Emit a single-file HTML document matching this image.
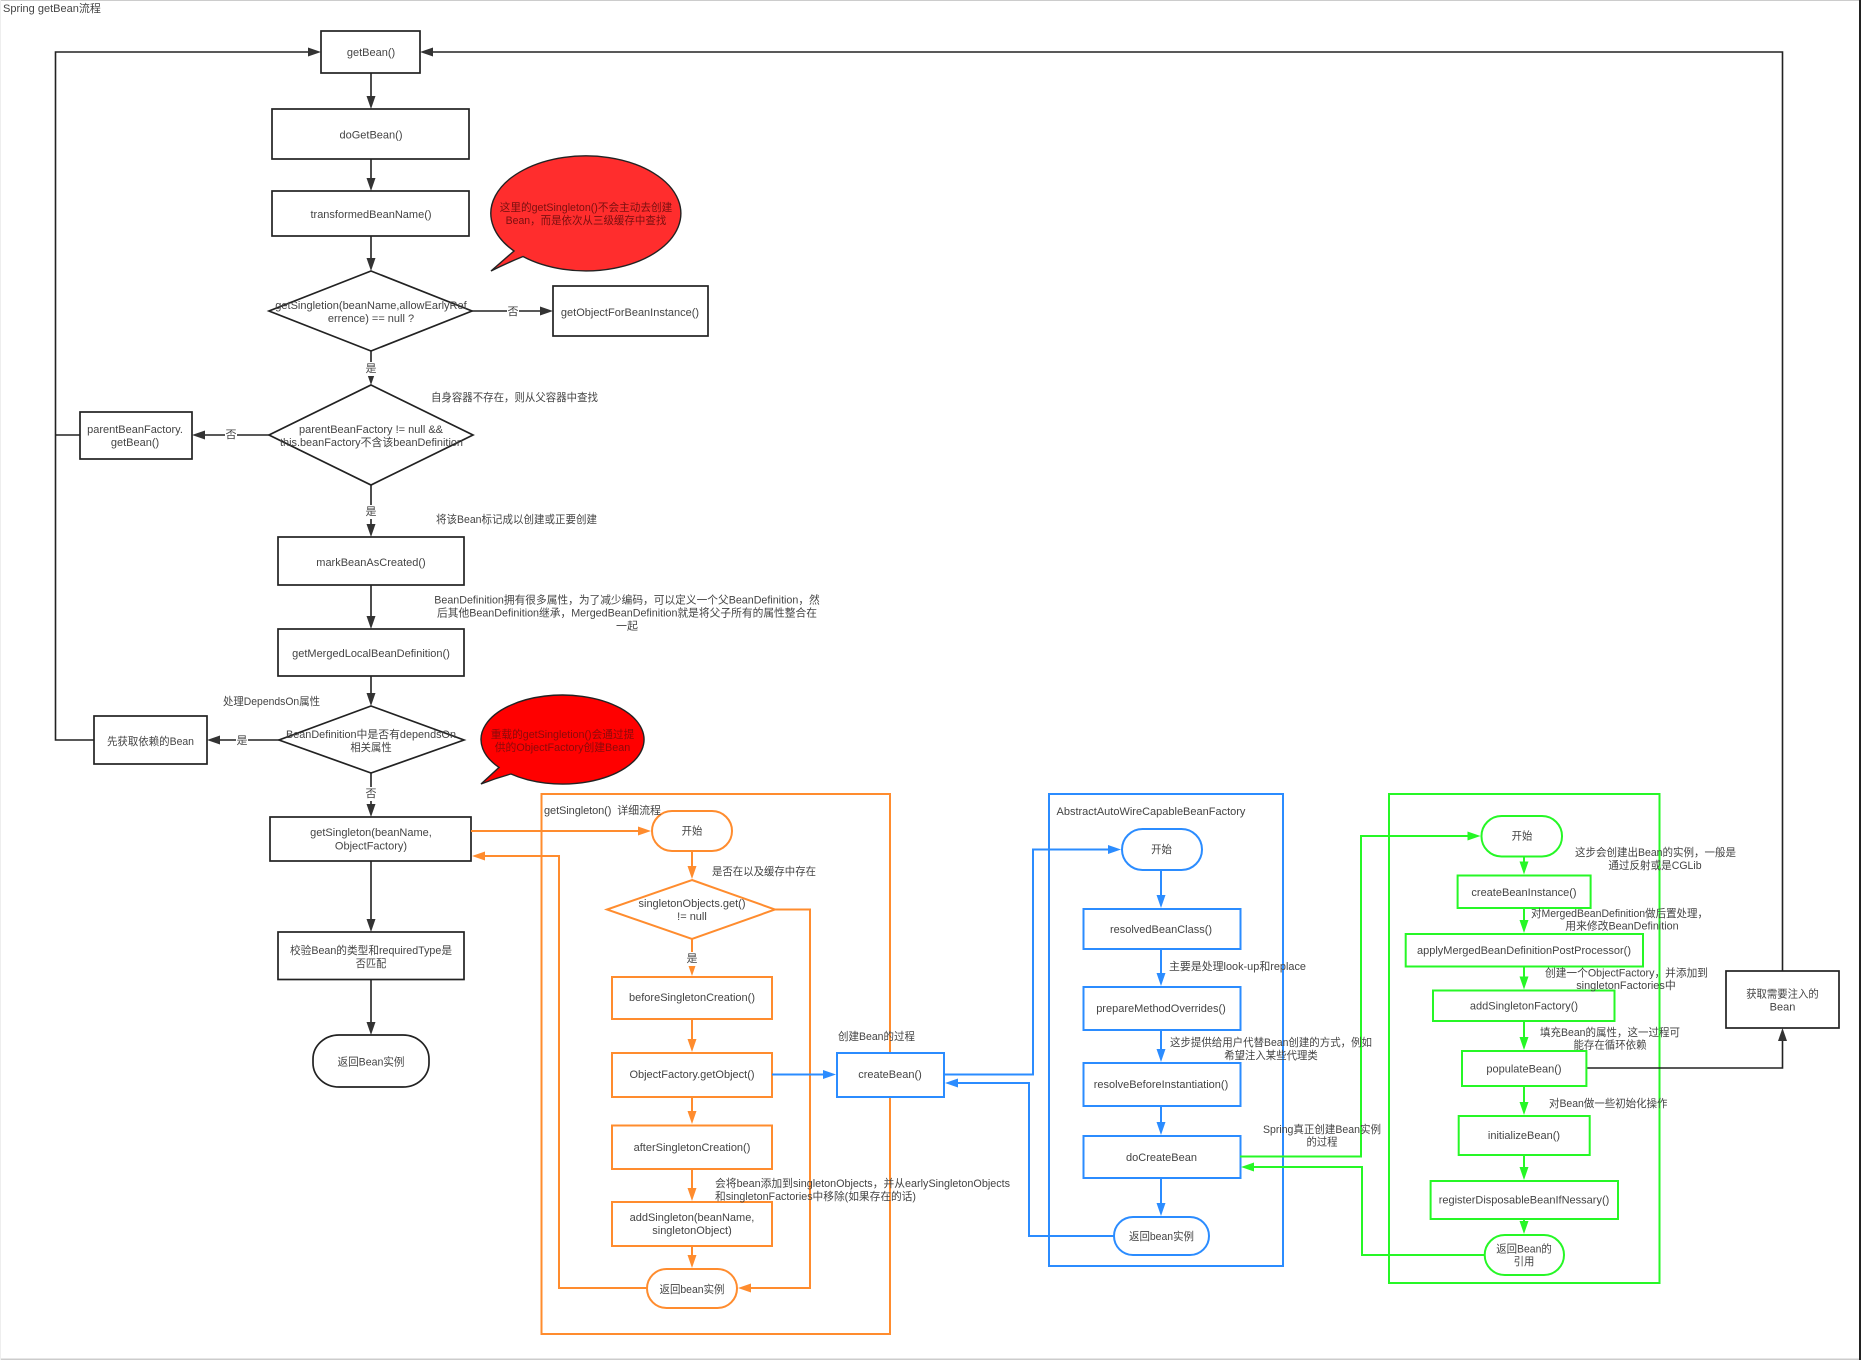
<!DOCTYPE html>
<html><head><meta charset="utf-8"><style>
html,body{margin:0;padding:0;background:#fff}
svg{display:block}
text{font-family:"Liberation Sans","Noto Sans CJK SC",sans-serif;font-size:11px;fill:#444;text-anchor:middle;dominant-baseline:central}
text.l{text-anchor:start}
.k{fill:#fff;stroke:#222;stroke-width:1.7}
.o{fill:#fff;stroke:#ff8c2e;stroke-width:2}
.b{fill:#fff;stroke:#2b8cff;stroke-width:2}
.g{fill:#fff;stroke:#26f726;stroke-width:2}
.cn{fill:none}
.lk{fill:none;stroke:#222;stroke-width:1.6;marker-end:url(#ak)}
.lo{fill:none;stroke:#ff8c2e;stroke-width:2;marker-end:url(#ao)}
.lb{fill:none;stroke:#2b8cff;stroke-width:2;marker-end:url(#ab)}
.lg{fill:none;stroke:#26f726;stroke-width:2;marker-end:url(#ag)}
</style></head><body>
<svg width="1861" height="1360" viewBox="0 0 1861 1360" xmlns="http://www.w3.org/2000/svg">
<defs>
<marker id="ak" markerUnits="userSpaceOnUse" markerWidth="13" markerHeight="9" refX="9" refY="4.5" orient="auto"><path d="M0,0L13,4.5L0,9z" fill="#333"/></marker>
<marker id="ao" markerUnits="userSpaceOnUse" markerWidth="13" markerHeight="9" refX="9" refY="4.5" orient="auto"><path d="M0,0L13,4.5L0,9z" fill="#ff8c2e"/></marker>
<marker id="ab" markerUnits="userSpaceOnUse" markerWidth="13" markerHeight="9" refX="9" refY="4.5" orient="auto"><path d="M0,0L13,4.5L0,9z" fill="#2b8cff"/></marker>
<marker id="ag" markerUnits="userSpaceOnUse" markerWidth="13" markerHeight="9" refX="9" refY="4.5" orient="auto"><path d="M0,0L13,4.5L0,9z" fill="#26f726"/></marker>
</defs>
<rect width="1861" height="1360" fill="#fff"/>
<rect x="0" y="0" width="1861" height="1" fill="#ccc"/>
<rect x="0" y="1358.5" width="1861" height="1.5" fill="#ccc"/>
<rect x="1859" y="0" width="2" height="1360" fill="#222"/>
<rect x="0" y="0" width="1" height="1360" fill="#eee"/>

<!-- containers -->
<rect x="541.5" y="794" width="348.5" height="540" class="o cn"/>
<rect x="1049" y="794" width="234" height="472" class="b cn"/>
<rect x="1389" y="794" width="270.5" height="489" class="g cn"/>

<!-- black connectors -->
<path class="lk" d="M371,73V105"/>
<path class="lk" d="M371,159V187"/>
<path class="lk" d="M371,236V267"/>
<path class="lk" d="M371,351V381"/>
<path class="lk" d="M472,311H549"/>
<path class="lk" d="M269,435H196"/>
<path class="lk" d="M371,485V533"/>
<path class="lk" d="M371,585V625"/>
<path class="lk" d="M371,676V702"/>
<path class="lk" d="M279,740H211"/>
<path class="lk" d="M371,773V813"/>
<path class="lk" d="M371,861V928"/>
<path class="lk" d="M371,980V1031"/>
<path class="lk" d="M94,740H55.5V52H317"/>
<path fill="none" stroke="#222" stroke-width="1.6" d="M80,435H55.5"/>
<path class="lk" d="M1782.5,971V52H424"/>
<path class="lk" d="M1586,1068H1782.5V1032"/>

<!-- black boxes -->
<rect x="321" y="31" width="99" height="42" class="k"/>
<rect x="272" y="109" width="197" height="50" class="k"/>
<rect x="272" y="191" width="197" height="45" class="k"/>
<polygon points="371,271 472,311 371,351 269,311" class="k"/>
<rect x="553" y="286" width="155" height="50" class="k"/>
<polygon points="371,385 473,435 371,485 269,435" class="k"/>
<rect x="80" y="412" width="112" height="47" class="k"/>
<rect x="278" y="537" width="186" height="48" class="k"/>
<rect x="278" y="629" width="186" height="47" class="k"/>
<polygon points="371,706 464,740 371,773 279,740" class="k"/>
<rect x="94" y="716" width="113" height="48" class="k"/>
<rect x="270" y="817" width="201" height="44" class="k"/>
<rect x="278" y="932" width="186" height="47.5" class="k"/>
<rect x="313" y="1035" width="116" height="52" rx="26" ry="24" class="k"/>
<rect x="1726" y="971" width="113" height="57" class="k"/>

<!-- bubbles -->
<path d="M491,271L514,251A95,57.5 0 1 1 523,256.5Q507,263 491,271Z" fill="#ff2d2d" stroke="#222" stroke-width="1.4"/>
<path d="M481,784L499,767.4A81.5,44.5 0 1 1 511,774Q496,778 481,784Z" fill="#ff0000" stroke="#222" stroke-width="1.4"/>

<!-- orange connectors -->
<path class="lo" d="M471,831H647"/>
<path class="lo" d="M647,1288H559V856H476"/>
<path class="lo" d="M692,851V875"/>
<path class="lo" d="M692,939V972"/>
<path class="lo" d="M692,1019V1048"/>
<path class="lo" d="M692,1097V1120"/>
<path class="lo" d="M692,1169V1197"/>
<path class="lo" d="M692,1246V1264"/>
<path class="lo" d="M775,909.5H810V1288H742"/>
<!-- orange shapes -->
<rect x="652" y="811" width="80" height="40" rx="20" class="o"/>
<polygon points="692,880 775,909.5 692,939 607,909.5" class="o"/>
<rect x="612" y="977" width="160" height="42" class="o"/>
<rect x="612" y="1053" width="160" height="44" class="o"/>
<rect x="612" y="1125.5" width="160" height="43.5" class="o"/>
<rect x="612" y="1202" width="160" height="44" class="o"/>
<rect x="647" y="1269" width="90" height="39" rx="19.5" class="o"/>

<!-- blue connectors -->
<path class="lb" d="M772,1074.5H832"/>
<path class="lb" d="M944,1074.5H1033V849.5H1117"/>
<path class="lb" d="M1114,1236H1029V1083H949"/>
<path class="lb" d="M1161,870V904"/>
<path class="lb" d="M1161,949V982"/>
<path class="lb" d="M1161,1030V1058"/>
<path class="lb" d="M1161,1106V1131"/>
<path class="lb" d="M1161,1178V1212"/>
<!-- blue shapes -->
<rect x="837" y="1053" width="107" height="44" class="b"/>
<rect x="1122" y="829" width="80" height="41" rx="20.5" class="b"/>
<rect x="1083.5" y="909" width="157" height="40" class="b"/>
<rect x="1083.5" y="987" width="157" height="43" class="b"/>
<rect x="1083.5" y="1063" width="157" height="43" class="b"/>
<rect x="1083.5" y="1136" width="157" height="42" class="b"/>
<rect x="1114" y="1217" width="95" height="38" rx="19" class="b"/>

<!-- green connectors -->
<path class="lg" d="M1240,1156.5H1361V836H1476.5"/>
<path class="lg" d="M1485,1255H1362V1167H1245"/>
<path class="lg" d="M1524,856.5V870.5"/>
<path class="lg" d="M1524,908V929"/>
<path class="lg" d="M1524,966.5V985.5"/>
<path class="lg" d="M1524,1021V1046"/>
<path class="lg" d="M1524,1086V1111"/>
<path class="lg" d="M1524,1155V1176"/>
<path class="lg" d="M1524,1219V1230"/>
<!-- green shapes -->
<rect x="1481.5" y="816" width="80.5" height="40.5" rx="20" class="g"/>
<rect x="1457.6" y="875.5" width="133" height="32.5" class="g"/>
<rect x="1405.7" y="934" width="237.3" height="32.5" class="g"/>
<rect x="1433" y="990.5" width="181.5" height="30.5" class="g"/>
<rect x="1462" y="1051" width="124.4" height="35" class="g"/>
<rect x="1458.7" y="1116" width="131" height="39" class="g"/>
<rect x="1430.6" y="1181" width="187.4" height="38" class="g"/>
<rect x="1484.7" y="1235" width="79.3" height="40" rx="20" class="g"/>

<!-- edge label backgrounds -->
<rect x="507" y="304" width="12" height="14" fill="#fff"/>
<rect x="365" y="362" width="12" height="14" fill="#fff"/>
<rect x="225" y="428" width="12" height="14" fill="#fff"/>
<rect x="365" y="505" width="12" height="14" fill="#fff"/>
<rect x="236" y="733" width="12" height="14" fill="#fff"/>
<rect x="365" y="787" width="12" height="14" fill="#fff"/>
<rect x="686" y="952" width="12" height="14" fill="#fff"/>

<!-- texts -->
<text class="l" x="3" y="9">Spring getBean流程</text>
<text x="371" y="53">getBean()</text>
<text x="371" y="135.5">doGetBean()</text>
<text x="371" y="215">transformedBeanName()</text>
<text x="371" y="306">getSingletion(beanName,allowEarlyRef</text>
<text x="371" y="319">errence) == null ?</text>
<text x="630" y="313">getObjectForBeanInstance()</text>
<text x="513" y="312">否</text>
<text x="371" y="369">是</text>
<text x="231" y="435">否</text>
<text x="371" y="430">parentBeanFactory != null &amp;&amp;</text>
<text x="371.5" y="443" textLength="183" lengthAdjust="spacingAndGlyphs">this.beanFactory不含该beanDefinition</text>
<text x="135" y="430">parentBeanFactory.</text>
<text x="135" y="443">getBean()</text>
<text class="l" x="431" y="398" textLength="167" lengthAdjust="spacingAndGlyphs">自身容器不存在，则从父容器中查找</text>
<text x="586" y="208" style="fill:#7a1010" textLength="172.5" lengthAdjust="spacingAndGlyphs">这里的getSingleton()不会主动去创建</text>
<text x="586" y="221" style="fill:#7a1010" textLength="160.7" lengthAdjust="spacingAndGlyphs">Bean，而是依次从三级缓存中查找</text>
<text x="371" y="512">是</text>
<text class="l" x="436" y="520" textLength="161" lengthAdjust="spacingAndGlyphs">将该Bean标记成以创建或正要创建</text>
<text x="371" y="563">markBeanAsCreated()</text>
<text x="627" y="600.5" textLength="385.5" lengthAdjust="spacingAndGlyphs">BeanDefinition拥有很多属性，为了减少编码，可以定义一个父BeanDefinition，然</text>
<text x="627" y="613.5" textLength="380" lengthAdjust="spacingAndGlyphs">后其他BeanDefinition继承，MergedBeanDefinition就是将父子所有的属性整合在</text>
<text x="627" y="626.5">一起</text>
<text x="371" y="654">getMergedLocalBeanDefinition()</text>
<text class="l" x="223" y="702" textLength="97" lengthAdjust="spacingAndGlyphs">处理DependsOn属性</text>
<text x="371" y="735" textLength="170" lengthAdjust="spacingAndGlyphs">BeanDefinition中是否有dependsOn</text>
<text x="371" y="748" textLength="41.3" lengthAdjust="spacingAndGlyphs">相关属性</text>
<text x="242" y="741">是</text>
<text x="150.5" y="742" textLength="87" lengthAdjust="spacingAndGlyphs">先获取依赖的Bean</text>
<text x="562.5" y="735" style="fill:#8a0a0a" textLength="143.5" lengthAdjust="spacingAndGlyphs">重载的getSingletion()会通过提</text>
<text x="562.5" y="748" style="fill:#8a0a0a" textLength="135.5" lengthAdjust="spacingAndGlyphs">供的ObjectFactory创建Bean</text>
<text x="371" y="794">否</text>
<text x="371" y="833">getSingleton(beanName,</text>
<text x="371" y="846.5">ObjectFactory)</text>
<text x="371" y="951" textLength="162" lengthAdjust="spacingAndGlyphs">校验Bean的类型和requiredType是</text>
<text x="371" y="964" textLength="30.4" lengthAdjust="spacingAndGlyphs">否匹配</text>
<text x="371" y="1062.5" textLength="67" lengthAdjust="spacingAndGlyphs">返回Bean实例</text>

<text class="l" x="544" y="811" textLength="117" xml:space="preserve">getSingleton()  详细流程</text>
<text x="692" y="831.5" textLength="20.7" lengthAdjust="spacingAndGlyphs">开始</text>
<text class="l" x="712" y="872" textLength="104" lengthAdjust="spacingAndGlyphs">是否在以及缓存中存在</text>
<text x="692" y="904">singletonObjects.get()</text>
<text x="692" y="917">!= null</text>
<text x="692" y="959">是</text>
<text x="692" y="998">beforeSingletonCreation()</text>
<text x="692" y="1075">ObjectFactory.getObject()</text>
<text x="692" y="1148">afterSingletonCreation()</text>
<text class="l" x="715" y="1184" textLength="295" lengthAdjust="spacingAndGlyphs">会将bean添加到singletonObjects，并从earlySingletonObjects</text>
<text class="l" x="715" y="1197" textLength="201" lengthAdjust="spacingAndGlyphs">和singletonFactories中移除(如果存在的话)</text>
<text x="692" y="1218">addSingleton(beanName,</text>
<text x="692" y="1231">singletonObject)</text>
<text x="692" y="1290" textLength="65" lengthAdjust="spacingAndGlyphs">返回bean实例</text>
<text class="l" x="838" y="1037" textLength="77" lengthAdjust="spacingAndGlyphs">创建Bean的过程</text>
<text x="890" y="1075">createBean()</text>

<text class="l" x="1056.5" y="812">AbstractAutoWireCapableBeanFactory</text>
<text x="1161.5" y="850" textLength="20.7" lengthAdjust="spacingAndGlyphs">开始</text>
<text x="1161" y="930">resolvedBeanClass()</text>
<text class="l" x="1169" y="967" textLength="137" lengthAdjust="spacingAndGlyphs">主要是处理look-up和replace</text>
<text x="1161" y="1009">prepareMethodOverrides()</text>
<text class="l" x="1170" y="1043" textLength="202" lengthAdjust="spacingAndGlyphs">这步提供给用户代替Bean创建的方式，例如</text>
<text x="1271" y="1056" textLength="93.5" lengthAdjust="spacingAndGlyphs">希望注入某些代理类</text>
<text x="1161" y="1085">resolveBeforeInstantiation()</text>
<text x="1322" y="1130" textLength="118" lengthAdjust="spacingAndGlyphs">Spring真正创建Bean实例</text>
<text x="1322" y="1142.5" textLength="31" lengthAdjust="spacingAndGlyphs">的过程</text>
<text x="1161.5" y="1158">doCreateBean</text>
<text x="1161.5" y="1237" textLength="65" lengthAdjust="spacingAndGlyphs">返回bean实例</text>

<text x="1522" y="836.5" textLength="20.7" lengthAdjust="spacingAndGlyphs">开始</text>
<text x="1655.5" y="853" textLength="161" lengthAdjust="spacingAndGlyphs">这步会创建出Bean的实例，一般是</text>
<text x="1655" y="866" textLength="93.3" lengthAdjust="spacingAndGlyphs">通过反射或是CGLib</text>
<text x="1524" y="893">createBeanInstance()</text>
<text x="1619.5" y="914" textLength="177" lengthAdjust="spacingAndGlyphs">对MergedBeanDefinition做后置处理，</text>
<text x="1622" y="926.5" textLength="113.4" lengthAdjust="spacingAndGlyphs">用来修改BeanDefinition</text>
<text x="1524" y="951">applyMergedBeanDefinitionPostProcessor()</text>
<text x="1626.5" y="973.5" textLength="163" lengthAdjust="spacingAndGlyphs">创建一个ObjectFactory，并添加到</text>
<text x="1626" y="986" textLength="99.6" lengthAdjust="spacingAndGlyphs">singletonFactories中</text>
<text x="1524" y="1006.5">addSingletonFactory()</text>
<text x="1610" y="1033" textLength="140" lengthAdjust="spacingAndGlyphs">填充Bean的属性，这一过程可</text>
<text x="1610" y="1045.5" textLength="73" lengthAdjust="spacingAndGlyphs">能存在循环依赖</text>
<text x="1524" y="1069.5">populateBean()</text>
<text class="l" x="1549" y="1104" textLength="118.5" lengthAdjust="spacingAndGlyphs">对Bean做一些初始化操作</text>
<text x="1524" y="1136">initializeBean()</text>
<text x="1524" y="1200.5">registerDisposableBeanIfNessary()</text>
<text x="1524" y="1249.5" textLength="55.6" lengthAdjust="spacingAndGlyphs">返回Bean的</text>
<text x="1524" y="1262" textLength="20.7" lengthAdjust="spacingAndGlyphs">引用</text>
<text x="1782.5" y="994.5" textLength="72.6" lengthAdjust="spacingAndGlyphs">获取需要注入的</text>
<text x="1782.5" y="1007.5">Bean</text>
</svg>
</body></html>
